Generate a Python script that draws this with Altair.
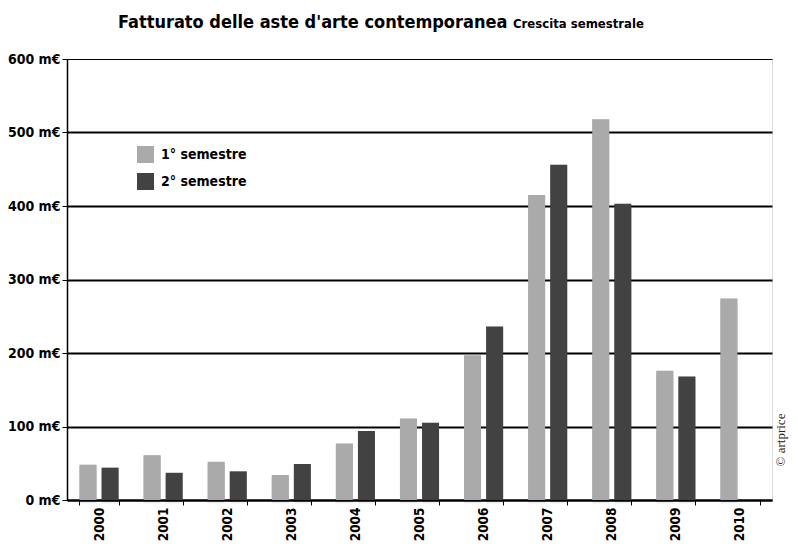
import altair as alt
import pandas as pd

years = ["2000", "2001", "2002", "2003", "2004", "2005", "2006", "2007", "2008", "2009", "2010"]
sem1 = [48, 61, 52, 34, 77, 111, 197, 415, 518, 176, 274]
sem2 = [44, 37, 39, 49, 94, 105, 236, 456, 403, 168, None]
series = ["1° semestre", "2° semestre"]
colors = ["#aaaaaa", "#424242"]
y_ticks = [0, 100, 200, 300, 400, 500, 600]

rows = []
for i, yr in enumerate(years):
    for s, vals in zip(series, [sem1, sem2]):
        if vals[i] is not None:
            rows.append({"anno": yr, "semestre": s, "valore": vals[i]})
df = pd.DataFrame(rows)

FONT = "Liberation Sans Narrow, DejaVu Sans Condensed, sans-serif"

x_enc = alt.X("anno:N", sort=years, title=None,
              scale=alt.Scale(paddingInner=0.39, paddingOuter=0.195),
              axis=alt.Axis(labelAngle=-90, labelFont=FONT, labelFontSize=13.5,
                            labelFontWeight="bold", labelColor="black",
                            tickBand="extent", tickSize=5, tickColor="black",
                            domainColor="black", domainWidth=2, labelPadding=2))
xo_enc = alt.XOffset("semestre:N", sort=series,
                     scale=alt.Scale(paddingInner=0.23, paddingOuter=0))
y_enc = alt.Y("valore:Q", title=None,
              scale=alt.Scale(domain=[0, 600], nice=False),
              axis=alt.Axis(values=y_ticks, labelExpr="datum.value + ' m€'",
                            labelFont=FONT, labelFontSize=14, labelFontWeight="bold",
                            labelColor="black", tickSize=5, tickColor="black",
                            domainColor="black", domainWidth=1.5,
                            grid=True, gridColor="black",
                            gridWidth={"condition": {"test": "datum.value == 600", "value": 1}, "value": 2},
                            labelPadding=2))

shadows = []
for off, op in [(2, 0.10), (3, 0.08), (4, 0.06), (5, 0.045), (6, 0.03)]:
    shadows.append(
        alt.Chart(df).mark_bar(color="black", opacity=op, xOffset=off, yOffset=off - 2)
        .encode(x=x_enc, xOffset=xo_enc, y=y_enc)
    )

bars = alt.Chart(df).mark_bar().encode(
    x=x_enc, xOffset=xo_enc, y=y_enc,
    color=alt.Color("semestre:N", sort=series,
                    scale=alt.Scale(domain=series, range=colors),
                    legend=alt.Legend(title=None, orient="none", legendX=70, legendY=87,
                                      symbolType="square", symbolSize=289,
                                      symbolStrokeWidth=0, labelFont=FONT,
                                      labelFontSize=14, labelFontWeight="bold",
                                      labelColor="black", rowPadding=10, labelOffset=7)),
)

title = alt.Chart().mark_text(
    text="Fatturato delle aste d'arte contemporanea", font=FONT, fontSize=18,
    fontWeight="bold", align="left", baseline="alphabetic", color="black"
).encode(x=alt.value(51), y=alt.value(-31))

subtitle = alt.Chart().mark_text(
    text="Crescita semestrale", font=FONT, fontSize=13,
    fontWeight="bold", align="left", baseline="alphabetic", color="black"
).encode(x=alt.value(446), y=alt.value(-31))

copyright_ = alt.Chart().mark_text(
    text="© artprice", font="Liberation Serif, DejaVu Serif, serif", fontSize=13,
    angle=270, align="center", baseline="middle", color="#222222"
).encode(x=alt.value(714), y=alt.value(381))

chart = alt.layer(*shadows, bars, title, subtitle, copyright_).properties(
    width=705, height=441,
    autosize=alt.AutoSizeParams(type="none"),
    padding={"left": 59, "top": 51, "right": 18, "bottom": 41},
).configure_view(stroke="black", strokeWidth=1).configure(background="white")

chart.save("out.html", embed_options={"renderer": "svg", "actions": False})
